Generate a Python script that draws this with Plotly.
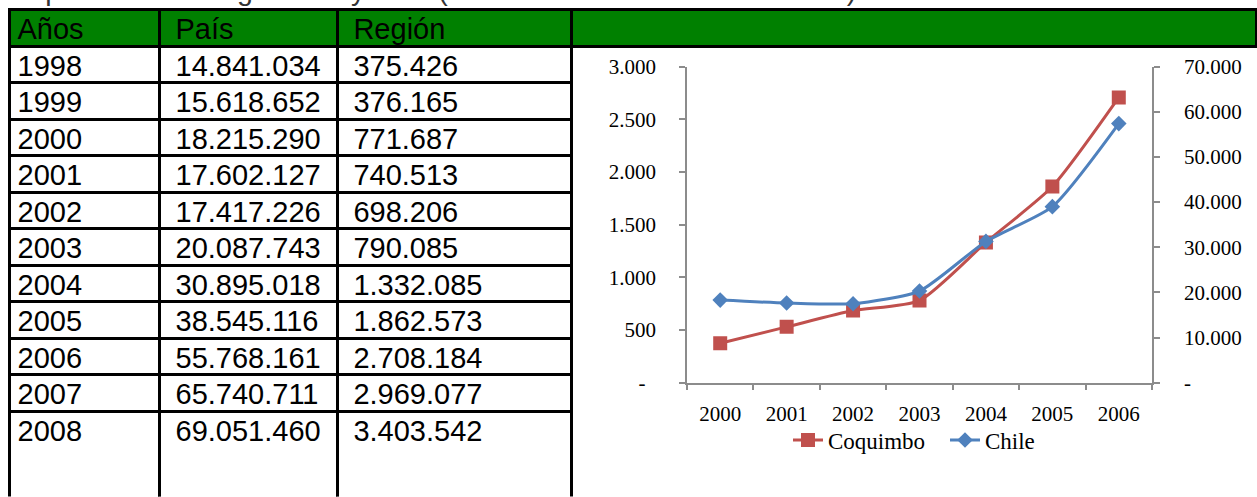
import plotly.graph_objects as go

W, H = 1257, 497

# ---------------- table data ----------------
headers = ["Años", "País", "Región"]
years = ["1998", "1999", "2000", "2001", "2002", "2003", "2004", "2005", "2006", "2007", "2008"]
pais = ["14.841.034", "15.618.652", "18.215.290", "17.602.127", "17.417.226", "20.087.743",
        "30.895.018", "38.545.116", "55.768.161", "65.740.711", "69.051.460"]
region = ["375.426", "376.165", "771.687", "740.513", "698.206", "790.085",
          "1.332.085", "1.862.573", "2.708.184", "2.969.077", "3.403.542"]

# ---------------- chart data ----------------
chart_years = ["2000", "2001", "2002", "2003", "2004", "2005", "2006"]
coquimbo = [375, 530, 685, 780, 1332, 1862, 2708]
chile = [18300, 17650, 17500, 20300, 31300, 39000, 57400]
left_ticks = [0, 500, 1000, 1500, 2000, 2500, 3000]
right_ticks = [0, 10000, 20000, 30000, 40000, 50000, 60000, 70000]

title_text = "Exportaciones Regionales y País (Miles de dólares FOB cada año)"


def fmt(v):
    return "-" if v == 0 else f"{v:,}".replace(",", ".")


NB = "\u00a0"

# 4th (chart) column of the table: empty, transparent body; the last cell is
# multi-line so the last row runs past the bottom edge like in the original.
chart_col = [""] * (len(years) - 1) + [NB + "<br>" + NB + "<br>" + NB + "<br>" + NB]

sans = "Liberation Sans, Arial, sans-serif"
serif = "Liberation Serif, Times New Roman, serif"
GREEN = "#008000"
AX = "#8c8c8c"
CLEAR = "rgba(0,0,0,0)"

fig = go.Figure()

fig.add_trace(go.Scatter(
    x=chart_years, y=coquimbo, name="Coquimbo", mode="lines+markers",
    line=dict(color="#C0504D", width=3, shape="spline", smoothing=0.6),
    marker=dict(symbol="square", size=14, color="#C0504D"),
    xaxis="x", yaxis="y"))

fig.add_trace(go.Scatter(
    x=chart_years, y=chile, name="Chile", mode="lines+markers",
    line=dict(color="#4F81BD", width=3, shape="spline", smoothing=0.6),
    marker=dict(symbol="diamond", size=12, color="#4F81BD"),
    xaxis="x", yaxis="y2"))

fig.add_trace(go.Table(
    domain=dict(x=[9.5 / W, 1.0], y=[0, 1 - 9.5 / H]),
    columnwidth=[150, 178, 234.5, 685],
    header=dict(values=[headers[0], NB + headers[1], NB + headers[2], ""],
                fill_color=GREEN, line=dict(color="black", width=3),
                font=dict(family=sans, size=29, color="black"),
                align="left", height=36.5),
    cells=dict(values=[years, [NB + v for v in pais], [NB + v for v in region], chart_col],
               fill_color=["white", "white", "white", CLEAR],
               line=dict(color=["black", "black", "black", CLEAR], width=3),
               font=dict(family=sans, size=29, color="black"),
               align="left", height=36.5),
))

tickfont = dict(family=serif, size=21, color="black")

fig.update_layout(
    width=W, height=H,
    margin=dict(l=0, r=0, t=0, b=0, autoexpand=False),
    paper_bgcolor="white", plot_bgcolor="white",
    showlegend=True,
    legend=dict(orientation="h", x=788 / W, xanchor="left", y=1 - 440 / H, yanchor="middle",
                entrywidth=112, entrywidthmode="pixels",
                font=dict(family=serif, size=23, color="black"), bgcolor=CLEAR),
    xaxis=dict(domain=[687 / W, 1152 / W], type="category", range=[-0.5, 6.5],
               showline=True, linecolor=AX, linewidth=1.5, ticks="outside", tickson="boundaries",
               ticklen=6, tickcolor=AX, tickwidth=1.5, showgrid=False, zeroline=False,
               tickfont=tickfont, ticklabelstandoff=11, anchor="y", automargin=False),
    yaxis=dict(domain=[1 - 382.7 / H, 1 - 66.7 / H], range=[0, 3000],
               tickvals=left_ticks, ticktext=[fmt(v) + (NB * 2 if v == 0 else "") for v in left_ticks],
               showline=True, linecolor=AX, linewidth=1.5, ticks="outside", ticklen=6,
               tickcolor=AX, tickwidth=1.5, showgrid=False, zeroline=False,
               tickfont=tickfont, ticklabelstandoff=19, anchor="x", automargin=False),
    yaxis2=dict(range=[0, 70000], overlaying="y", side="right", anchor="x",
                tickvals=right_ticks, ticktext=[fmt(v) for v in right_ticks],
                showline=True, linecolor=AX, linewidth=1.5, ticks="outside", ticklen=6,
                tickcolor=AX, tickwidth=1.5, showgrid=False, zeroline=False,
                tickfont=tickfont, ticklabelstandoff=20, automargin=False),
    annotations=[
        dict(text=title_text, xref="paper", yref="paper", x=10 / W, xanchor="left",
             y=1 - 8 / H, yanchor="bottom", showarrow=False,
             font=dict(family=sans, size=28.5, color="#333333")),
    ],
)

fig.write_html("out.html", config={"displayModeBar": False},
               post_script="document.body.style.margin='0px';")
